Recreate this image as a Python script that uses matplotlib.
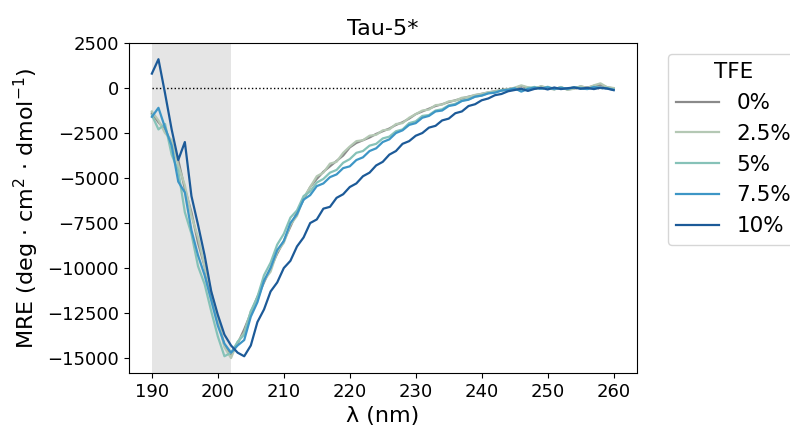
import numpy as np
import matplotlib.pyplot as plt

# wavelength grid (nm)
wl = np.arange(190, 261)

labels = ['0%', '2.5%', '5%', '7.5%', '10%']
colors = ['#8a8a8a', '#b4c8b4', '#86c2b8', '#3d96c6', '#1c5a98']

tfe_0 = [-1400, -1900, -2300, -3100, -4000, -5600, -6900, -8600, -9900, -11600,
         -12900, -14300, -14800, -14200, -13400, -12500, -11600, -10800, -10000, -9200,
         -8500, -7700, -6900, -6200, -5500, -5050, -4650, -4350, -4050, -3750,
         -3300, -3050, -2900, -2750, -2550, -2400, -2250, -2050, -1900, -1700,
         -1450, -1300, -1150, -1000, -900, -780, -680, -580, -480, -400,
         -320, -250, -180, -120, -60, 0, 100, 20, -40, 80,
         0, -60, 40, -80, -30, 80, 20, 120, 180, 40, -20]
tfe_2_5 = [-1300, -1800, -2500, -2900, -4300, -5400, -7100, -8300, -9900, -11300,
           -12800, -14400, -15000, -14100, -13600, -12400, -11800, -10700, -10200, -9100,
           -8600, -7600, -7100, -6100, -5500, -4900, -4700, -4200, -4100, -3600,
           -3250, -2950, -2900, -2650, -2600, -2350, -2300, -2000, -1950, -1650,
           -1450, -1250, -1200, -950, -920, -740, -700, -540, -500, -380,
           -330, -230, -190, -100, -70, 20, 150, 40, -50, 110,
           0, -90, 60, -100, -40, 110, -10, 150, 260, 50, 0]
tfe_5 = [-1500, -2300, -2000, -3700, -4600, -6900, -8100, -9900, -10900, -12400,
         -13800, -14900, -14700, -14100, -13700, -12400, -11600, -10400, -9700, -8700,
         -8100, -7200, -6800, -6000, -5750, -5250, -5050, -4700, -4550, -4150,
         -3950, -3600, -3500, -3200, -3100, -2800, -2700, -2400, -2300, -1950,
         -1850, -1550, -1500, -1250, -1180, -960, -880, -700, -620, -480,
         -420, -280, -230, -140, -90, -20, -150, 0, 60, -30,
         70, -40, 30, -60, 50, 0, -50, 70, 30, 0, -80]
tfe_7_5 = [-1600, -1100, -2200, -3200, -5200, -5800, -7900, -9300, -10400, -11800,
           -13200, -14200, -14700, -14300, -14000, -12700, -11900, -10700, -10000, -9000,
           -8500, -7500, -7000, -6200, -5950, -5450, -5300, -4950, -4800, -4450,
           -4350, -4000, -3850, -3500, -3350, -3000, -2850, -2500, -2350, -2050,
           -1950, -1650, -1550, -1300, -1250, -1000, -930, -720, -650, -480,
           -420, -300, -260, -140, -100, -20, -200, -50, 20, -40,
           40, -60, 10, -40, 30, -20, -60, 50, 0, -20, -100]
tfe_10 = [800, 1600, -300, -2300, -4000, -3000, -6000, -7600, -9300, -11300,
          -12600, -13700, -14300, -14700, -14900, -14300, -13000, -12300, -11300, -10800,
          -10000, -9600, -8800, -8300, -7500, -7300, -6700, -6600, -6100, -5900,
          -5500, -5300, -4900, -4700, -4300, -4100, -3700, -3500, -3100, -2950,
          -2650, -2500, -2200, -2100, -1800, -1700, -1400, -1300, -1000, -900,
          -680, -580, -400, -330, -180, -110, -40, -160, -50, 10,
          -80, 30, -60, -10, 30, -40, 10, -60, 20, -30, -120]

series = [tfe_0, tfe_2_5, tfe_5, tfe_7_5, tfe_10]

fig = plt.figure(figsize=(7.9, 4.28), dpi=100)
ax = fig.add_axes([0.163, 0.1285, 0.643, 0.771])

ax.axvspan(190, 202, color='grey', alpha=0.2, lw=0)
ax.hlines(0, 190, 260, colors='black', linestyles='dotted', linewidth=1)

for vals, lab, col in zip(series, labels, colors):
    ax.plot(wl, vals, color=col, label=lab, linewidth=1.6)

ax.set_xticks(np.arange(190, 261, 10))
ax.set_yticks(np.arange(-15000, 2501, 2500))
ax.tick_params(labelsize=13)
ax.set_xlabel('λ (nm)', fontsize=16)
ax.set_ylabel('MRE (deg · cm$^2$ · dmol$^{-1}$)', fontsize=16)
ax.set_title('Tau-5*', fontsize=16)

ax.legend(title='TFE', loc='upper left', bbox_to_anchor=(1.04, 1),
          fontsize=15.5, title_fontsize=15.5, frameon=True)

fig.savefig('out.png', dpi=100)
